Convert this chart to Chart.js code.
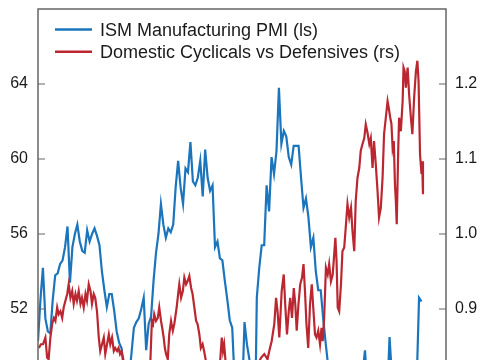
<!DOCTYPE html>
<html>
<head>
<meta charset="utf-8">
<script src="https://cdn.jsdelivr.net/npm/chart.js@4.4.1/dist/chart.umd.min.js"></script>
<style>
  html, body { margin: 0; padding: 0; background: #fff; overflow: hidden; width: 485px; height: 360px; }
  canvas { display: block; }
</style>
</head>
<body>
<canvas id="chart" width="485" height="460"></canvas>
<script>
// ISM Manufacturing PMI, monthly from Jan 2013 (left scale)
const pmiStart = 2013;
const pmiValues = [
  50.3, 52.5, 54.2, 51.5, 50.8, 50.7, 52.5, 53.8, 53.9, 54.4,
  54.6, 55.3, 56.4, 53.4, 55.3, 56.0, 56.5, 55.6, 55.1, 55.0,
  56.2, 55.6, 56.0, 56.3, 55.9, 55.4, 54.0, 53.0, 52.1, 52.8,
  52.8, 51.9, 50.8, 50.2, 49.9, 48.6, 48.0, 48.2, 49.6, 51.0,
  51.3, 51.5, 52.0, 52.6, 49.8, 51.2, 51.6, 53.5, 55.0, 56.0,
  57.6, 56.5, 55.8, 56.3, 56.1, 56.5, 58.5, 59.9, 58.5, 57.6,
  59.5, 59.3, 60.9, 58.8, 58.6, 59.0, 59.9, 58.0, 60.5, 59.0,
  58.3, 58.6, 55.3, 55.6, 54.7, 54.6, 53.5, 52.5, 51.4, 51.0,
  48.1, 47.8, 48.1, 47.2, 51.3, 50.1, 49.3, 41.5, 43.1, 52.6,
  54.2, 55.4, 55.4, 58.6, 57.2, 60.1, 59.2, 60.4, 63.8, 60.8,
  61.5, 61.2, 60.1, 59.7, 60.7, 60.7, 60.7, 59.0, 57.4, 57.9,
  56.9, 55.3, 55.8, 54.0, 53.0, 53.0, 51.5, 50.2, 49.0, 48.4,
  47.4, 47.7, 46.9, 46.3, 46.9, 46.0, 46.4, 47.6, 48.7, 46.7,
  47.2, 47.4, 48.5, 49.8, 47.8, 47.1, 48.4, 47.2, 46.5, 48.4,
  47.9, 48.3, 47.2, 50.5, 48.3, 48.6, 48.5, 48.9, 48.7, 48.0,
  49.0, 48.7, 48.7, 48.2, 47.9, 52.6, 52.4
];

// Domestic cyclicals vs defensives relative performance (right scale)
const ratioDates = [
  2013.03, 2013.10, 2013.17, 2013.25, 2013.31, 2013.36, 2013.42, 2013.48, 2013.54, 2013.59,
  2013.65, 2013.70, 2013.76, 2013.82, 2013.87, 2013.93, 2013.99, 2014.04, 2014.10, 2014.16,
  2014.21, 2014.27, 2014.32, 2014.38, 2014.44, 2014.49, 2014.55, 2014.61, 2014.66, 2014.72,
  2014.78, 2014.83, 2014.89, 2014.94, 2015.00, 2015.06, 2015.11, 2015.17, 2015.23, 2015.28,
  2015.34, 2015.40, 2015.45, 2015.51, 2015.57, 2015.62, 2015.68, 2015.73, 2015.78, 2015.83,
  2015.88, 2015.93, 2016.00, 2016.20, 2016.40, 2016.60, 2016.75, 2016.81, 2016.86, 2016.90,
  2016.94, 2017.00, 2017.06, 2017.11, 2017.17, 2017.21, 2017.26, 2017.30, 2017.34, 2017.40,
  2017.45, 2017.51, 2017.57, 2017.62, 2017.70, 2017.75, 2017.79, 2017.85, 2017.91, 2017.96,
  2018.02, 2018.07, 2018.13, 2018.19, 2018.24, 2018.30, 2018.36, 2018.41, 2018.47, 2018.52,
  2018.58, 2018.63, 2018.69, 2018.80, 2019.00, 2019.14, 2019.17, 2019.23, 2019.27, 2019.31,
  2019.37, 2019.60, 2019.90, 2020.20, 2020.35, 2020.47, 2020.56, 2020.67, 2020.78, 2020.84,
  2020.92, 2021.01, 2021.07, 2021.12, 2021.18, 2021.26, 2021.33, 2021.38, 2021.44, 2021.50,
  2021.55, 2021.61, 2021.67, 2021.72, 2021.77, 2021.83, 2021.89, 2021.95, 2022.00, 2022.05,
  2022.10, 2022.16, 2022.22, 2022.28, 2022.33, 2022.39, 2022.44, 2022.50, 2022.56, 2022.61,
  2022.65, 2022.70, 2022.76, 2022.82, 2022.87, 2022.93, 2022.99, 2023.04, 2023.08, 2023.12,
  2023.16, 2023.21, 2023.27, 2023.32, 2023.38, 2023.44, 2023.49, 2023.55, 2023.61, 2023.66,
  2023.72, 2023.77, 2023.83, 2023.89, 2023.94, 2024.00, 2024.06, 2024.11, 2024.17, 2024.23,
  2024.28, 2024.34, 2024.39, 2024.45, 2024.51, 2024.56, 2024.62, 2024.68, 2024.73, 2024.79,
  2024.85, 2024.89, 2024.94, 2024.98, 2025.02, 2025.06, 2025.10, 2025.13, 2025.16, 2025.21,
  2025.24, 2025.30, 2025.36, 2025.39, 2025.43, 2025.47, 2025.53, 2025.58, 2025.64, 2025.69,
  2025.75, 2025.81, 2025.86, 2025.90, 2025.95, 2026.00, 2026.02, 2026.05
];
const ratioValues = [
  0.848, 0.853, 0.853, 0.862, 0.835, 0.833, 0.862, 0.880, 0.888, 0.884,
  0.902, 0.893, 0.897, 0.888, 0.902, 0.911, 0.920, 0.933, 0.915, 0.924,
  0.907, 0.920, 0.911, 0.924, 0.907, 0.915, 0.902, 0.920, 0.911, 0.933,
  0.924, 0.907, 0.920, 0.915, 0.897, 0.862, 0.844, 0.853, 0.862, 0.840,
  0.853, 0.866, 0.853, 0.862, 0.844, 0.848, 0.844, 0.848, 0.840, 0.844,
  0.835, 0.824, 0.810, 0.800, 0.805, 0.810, 0.818, 0.831, 0.884, 0.880,
  0.893, 0.884, 0.888, 0.902, 0.884, 0.875, 0.862, 0.848, 0.840, 0.833,
  0.867, 0.884, 0.871, 0.880, 0.902, 0.920, 0.933, 0.915, 0.924, 0.942,
  0.933, 0.937, 0.944, 0.928, 0.920, 0.902, 0.884, 0.880, 0.866, 0.848,
  0.853, 0.844, 0.831, 0.820, 0.810, 0.818, 0.828, 0.862, 0.844, 0.853,
  0.824, 0.800, 0.790, 0.760, 0.790, 0.828, 0.835, 0.840, 0.833, 0.844,
  0.857, 0.880, 0.915, 0.897, 0.862, 0.924, 0.946, 0.906, 0.866, 0.897,
  0.915, 0.888, 0.928, 0.907, 0.871, 0.907, 0.933, 0.942, 0.960, 0.924,
  0.880, 0.848, 0.906, 0.933, 0.902, 0.866, 0.862, 0.871, 0.853, 0.875,
  0.857, 0.888, 0.955, 0.946, 0.960, 0.937, 0.946, 0.973, 0.995, 0.964,
  0.902, 0.897, 0.933, 0.977, 0.982, 1.013, 1.040, 1.022, 1.035, 1.004,
  0.977, 1.044, 1.075, 1.088, 1.111, 1.120, 1.128, 1.146, 1.135, 1.120,
  1.128, 1.088, 1.124, 1.093, 1.057, 1.022, 1.035, 1.075, 1.133, 1.155,
  1.177, 1.168, 1.155, 1.147, 1.115, 1.124, 1.066, 1.044, 1.013, 1.111,
  1.155, 1.137, 1.177, 1.222, 1.217, 1.195, 1.222, 1.186, 1.155, 1.133,
  1.182, 1.217, 1.231, 1.204, 1.106, 1.080, 1.097, 1.053
];

const leftTicks = [48, 52, 56, 60, 64];
const rightTicks = [0.8, 0.9, 1.0, 1.1, 1.2];

const BLUE = '#1b75bc';
const RED = '#bb2730';
const FONT = "'Liberation Sans', Arial, sans-serif";

const pmiPoints = pmiValues.map((v, i) => ({x: pmiStart + i / 12, y: v}));
const ratioPoints = ratioValues.map((v, i) => ({x: ratioDates[i], y: v}));

// box around the plot, inward tick marks and the legend inside the plot
const framePlugin = {
  id: 'frame',
  afterDraw(chart) {
    const {ctx, chartArea: a, scales} = chart;
    ctx.save();
    ctx.strokeStyle = '#666666';
    ctx.lineWidth = 1.5;
    ctx.strokeRect(a.left, a.top, a.right - a.left, a.bottom - a.top);
    ctx.lineWidth = 1.2;
    ctx.beginPath();
    scales.y.ticks.forEach(t => {
      const y = scales.y.getPixelForValue(t.value);
      ctx.moveTo(a.left, y);
      ctx.lineTo(a.left + 7, y);
    });
    scales.y1.ticks.forEach(t => {
      const y = scales.y1.getPixelForValue(t.value);
      ctx.moveTo(a.right - 7, y);
      ctx.lineTo(a.right, y);
    });
    ctx.stroke();

    ctx.font = '18px ' + FONT;
    ctx.textBaseline = 'alphabetic';
    ctx.textAlign = 'left';
    chart.data.datasets.forEach((ds, i) => {
      const y = 29.5 + i * 22.3;
      ctx.strokeStyle = ds.borderColor;
      ctx.lineWidth = 2.5;
      ctx.beginPath();
      ctx.moveTo(55, y);
      ctx.lineTo(92, y);
      ctx.stroke();
      ctx.fillStyle = '#1a1a1a';
      ctx.fillText(ds.label, 100, y + 6);
    });
    ctx.restore();
  }
};

new Chart(document.getElementById('chart'), {
  type: 'line',
  data: {
    datasets: [
      {label: 'ISM Manufacturing PMI (ls)', data: pmiPoints, yAxisID: 'y',
       borderColor: BLUE, borderWidth: 2.2, pointRadius: 0, tension: 0, order: 1},
      {label: 'Domestic Cyclicals vs Defensives (rs)', data: ratioPoints, yAxisID: 'y1',
       borderColor: RED, borderWidth: 2.2, pointRadius: 0, tension: 0, order: 0}
    ]
  },
  options: {
    responsive: false,
    animation: false,
    devicePixelRatio: 1,
    layout: {padding: {top: 9, bottom: 1, left: 0, right: 0}},
    plugins: {legend: {display: false}, tooltip: {enabled: false}},
    scales: {
      x: {type: 'linear', display: false, min: 2013.0, max: 2026.83},
      y: {
        position: 'left', min: 44, max: 68,
        grid: {display: false, drawTicks: false}, border: {display: false},
        afterBuildTicks: s => { s.ticks = leftTicks.map(v => ({value: v})); },
        afterFit: s => { s.width = 38; s.paddingTop = 0; s.paddingBottom = 0; },
        ticks: {padding: 10, color: '#1a1a1a', font: {family: FONT, size: 16}}
      },
      y1: {
        position: 'right', min: 0.7, max: 1.3,
        grid: {display: false, drawTicks: false}, border: {display: false},
        afterBuildTicks: s => { s.ticks = rightTicks.map(v => ({value: v})); },
        afterFit: s => { s.width = 39; s.paddingTop = 0; s.paddingBottom = 0; },
        ticks: {padding: 9, color: '#1a1a1a', font: {family: FONT, size: 16},
                callback: v => v.toFixed(1)}
      }
    }
  },
  plugins: [framePlugin]
});
</script>
</body>
</html>
